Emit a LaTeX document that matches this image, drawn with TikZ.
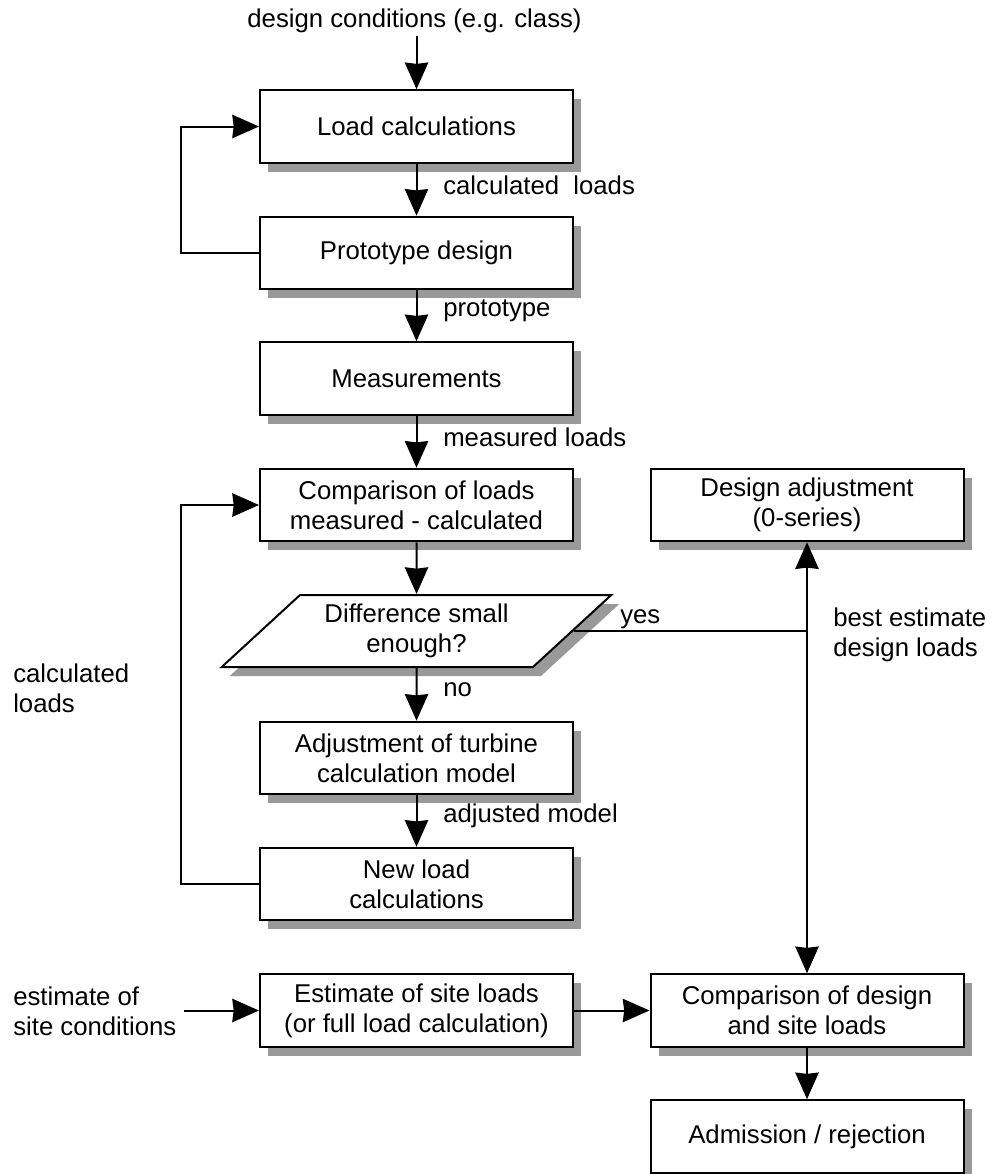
\documentclass[tikz,border=0pt]{standalone}
\usepackage{fontspec}
\setmainfont{Liberation Sans}
\usetikzlibrary{arrows.meta,shapes.geometric,shadows}
\definecolor{shd}{RGB}{153,153,153}
\begin{document}
\begin{tikzpicture}[x=0.75pt,y=-0.75pt,
  font=\fontsize{19.3pt}{22.5pt}\selectfont,
  box/.style={draw,line width=1.5pt,fill=white,minimum width=234.75pt,minimum height=54.4pt,
    align=center,inner sep=2pt,
    drop shadow={shadow xshift=6pt,shadow yshift=-6.75pt,opacity=1,fill=shd,draw=none}},
  para/.style={box,trapezium,trapezium left angle=43,trapezium right angle=137,
    trapezium stretches=true,minimum width=293.25pt,minimum height=54pt},
  tip/.style={Stealth[length=20pt,width=17.5pt,inset=1pt]},
  arr/.style={line width=1.5pt,-{Stealth[length=20pt,width=17.5pt,inset=1pt]}},
  darr/.style={line width=1.5pt,{Stealth[length=20pt,width=17.5pt,inset=1pt]}-{Stealth[length=20pt,width=17.5pt,inset=1pt]}},
  conn/.style={line width=1.5pt},
  lbl/.style={anchor=west,inner sep=0pt,align=left}]
\useasboundingbox (0,0) rectangle (993,1174);

% boxes
\node[box] (LC) at (416.5,126.5) {Load calculations};
\node[box] (PD) at (416.5,253) {Prototype design};
\node[box] (M) at (416.5,378.5) {Measurements};
\node[box] (CL) at (416.5,505) {Comparison of loads\\measured - calculated};
\node[para] (D) at (416.5,631) {Difference small\\enough?};
\node[box] (AT) at (416.5,758) {Adjustment of turbine\\calculation model};
\node[box] (NL) at (416.5,884) {New load\\calculations};
\node[box] (ES) at (416.5,1010.5) {Estimate of site loads\\(or full load calculation)};
\node[box] (DA) at (807,505) {Design adjustment\\(0-series)};
\node[box] (CD) at (807,1010.5) {Comparison of design\\and site loads};
\node[box] (AR) at (807,1136.5) {Admission / rejection};

% free texts
\node[inner sep=2pt] (dc) at (414.5,21) {design conditions (e.g. class)};
\node[lbl] (t1) at (443,185) {calculated~~loads};
\node[lbl] (t2) at (443,311) {prototype};
\node[lbl] (t3) at (443,437) {measured loads};
\node[lbl] (t4) at (443,690) {no};
\node[lbl] (t5) at (443,816) {adjusted model};
\node[lbl] (t6) at (620,619) {yes};
\node[lbl] (t7) at (833,635) {best estimate\\design loads};
\node[lbl] (t8) at (13,688) {calculated\\loads};
\node[lbl] (t9) at (13,1011) {estimate of\\site conditions};

% connectors
\draw[arr] (dc.south -| LC.north) -- (LC.north);
\draw[arr] (LC) -- (PD);
\draw[arr] (PD.west) -- ++(-78,0) |- (LC.west);
\draw[arr] (PD) -- (M);
\draw[arr] (M) -- (CL);
\draw[arr] (CL) -- (D.north);
\draw[arr] (D.south) -- (AT);
\draw[arr] (AT) -- (NL);
\draw[arr] (NL.west) -- ++(-78,0) |- (CL.west);
\draw[darr] (CD) -- (DA);
\draw[conn] (D.east) -- (D.east -| DA.south);
\draw[arr] (t9.east |- ES.west) ++(7,0) -- (ES.west);
\draw[arr] (ES) -- (CD);
\draw[arr] (CD) -- (AR);
\end{tikzpicture}
\end{document}
